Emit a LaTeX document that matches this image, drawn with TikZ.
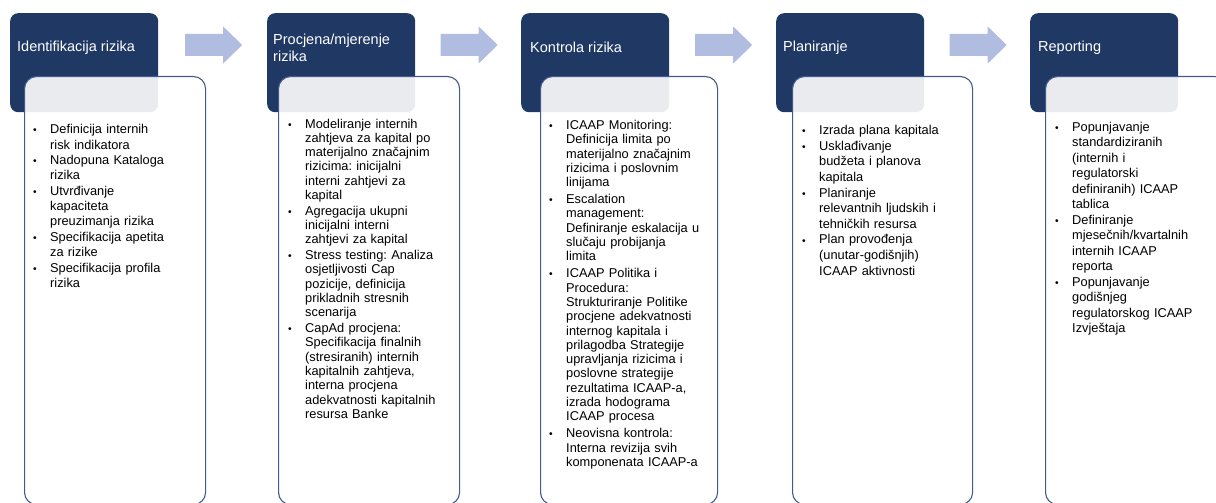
\documentclass[tikz,border=0pt]{standalone}
\usepackage{fontspec}
\setmainfont{Liberation Sans}
\usepackage{tikz}
\usetikzlibrary{calc}
\definecolor{hdrblue}{RGB}{32,56,100}
\definecolor{arrblue}{RGB}{176,189,224}
\definecolor{boxline}{RGB}{68,90,140}
\tikzset{
  hdr/.style={anchor=north west, fill=hdrblue, rounded corners=8pt, minimum width=148pt, minimum height=99pt, inner sep=0pt},
  hdrtxt/.style={anchor=west, text=white, align=left, inner sep=0pt, font=\fontsize{14.5}{17}\selectfont},
  opisbox/.style={anchor=north west, draw=boxline, line width=1.1pt, fill=white, fill opacity=0.9, rounded corners=12pt, minimum height=428pt, inner sep=0pt},
  opistxt/.style={anchor=north west, inner sep=0pt, text width=200pt, font=\fontsize{12.8}{#1}\selectfont\frenchspacing},
  pics/strelica/.style={code={
    \fill[arrblue] (-28.5,-11) -- (9.5,-11) -- (9.5,-18.5) -- (28.5,0) -- (9.5,18.5) -- (9.5,11) -- (-28.5,11) -- cycle;
  }}
}
\newlength{\razmak}
\newcommand{\stavka}[1]{\par\noindent\hangindent=17pt\hangafter=1\makebox[17pt][l]{\scalebox{0.8}{\textbullet}}#1\par\vspace{\razmak}}

\begin{document}
\begin{tikzpicture}[x=1pt,y=-1pt]
\useasboundingbox (0,0) rectangle (1216,503);
\clip (0,0) rectangle (1216,503);
% zaglavlja
\node[hdr] (h1) at (10,13) {};
\node[hdr] (h2) at (267,13) {};
\node[hdr] (h3) at (521,13) {};
\node[hdr] (h4) at (776,13) {};
\node[hdr] (h5) at (1030,13) {};
% okviri s opisom
\node[opisbox, minimum width=181pt] (b1) at ($(h1.north west)+(14,63)$) {};
\node[opisbox, minimum width=181pt] (b2) at ($(h2.north west)+(11,63)$) {};
\node[opisbox, minimum width=177pt] (b3) at ($(h3.north west)+(19,63)$) {};
\node[opisbox, minimum width=180pt] (b4) at ($(h4.north west)+(16,63)$) {};
\node[opisbox, minimum width=181pt] (b5) at ($(h5.north west)+(15,63)$) {};
% naslovi
\node[hdrtxt] (t1) at ($(h1.north west)+(7,34.5)$) {Identifikacija rizika};
\node[hdrtxt] (t2) at ($(h2.north west)+(6,34.5)$) {Procjena/mjerenje\\rizika};
\node[hdrtxt] (t3) at ($(h3.north west)+(9,34.5)$) {Kontrola rizika};
\node[hdrtxt] (t4) at ($(h4.north west)+(7,34.5)$) {Planiranje};
\node[hdrtxt] (t5) at ($(h5.north west)+(8,34.5)$) {Reporting};
% strelice
\pic (s1) at ($(h1.north east)!0.5!(h2.north west)+(1,32)$) {strelica};
\pic (s2) at ($(h2.north east)!0.5!(h3.north west)+(1,32)$) {strelica};
\pic (s3) at ($(h3.north east)!0.5!(h4.north west)+(1,32)$) {strelica};
\pic (s4) at ($(h4.north east)!0.5!(h5.north west)+(1,32)$) {strelica};
% opisi
\node[opistxt=15.4] (l1) at ($(b1.north west)+(9,42)$) {\setlength{\razmak}{0pt}%
  \stavka{Definicija internih\newline risk indikatora}
  \stavka{Nadopuna Kataloga\newline rizika}
  \stavka{Utvrđivanje\newline kapaciteta\newline preuzimanja rizika}
  \stavka{Specifikacija apetita\newline za rizike}
  \stavka{Specifikacija profila\newline rizika}};
\node[opistxt=14.3] (l2) at ($(b2.north west)+(10,37.5)$) {\setlength{\razmak}{1.5pt}%
  \stavka{Modeliranje internih\newline zahtjeva za kapital po\newline materijalno značajnim\newline rizicima: inicijalni\newline interni zahtjevi za\newline kapital}
  \stavka{Agregacija ukupni\newline inicijalni interni\newline zahtjevi za kapital}
  \stavka{Stress testing: Analiza\newline osjetljivosti Cap\newline pozicije, definicija\newline prikladnih stresnih\newline scenarija}
  \stavka{CapAd procjena:\newline Specifikacija finalnih\newline (stresiranih) internih\newline kapitalnih zahtjeva,\newline interna procjena\newline adekvatnosti kapitalnih\newline resursa Banke}};
\node[opistxt=14.3] (l3) at ($(b3.north west)+(9,39)$) {\setlength{\razmak}{2.7pt}%
  \stavka{ICAAP Monitoring:\newline Definicija limita po\newline materijalno značajnim\newline rizicima i poslovnim\newline linijama}
  \stavka{Escalation\newline management:\newline Definiranje eskalacija u\newline slučaju probijanja\newline limita}
  \stavka{ICAAP Politika i\newline Procedura:\newline Strukturiranje Politike\newline procjene adekvatnosti\newline internog kapitala i\newline prilagodba Strategije\newline upravljanja rizicima i\newline poslovne strategije\newline rezultatima ICAAP-a,\newline izrada hodograma\newline ICAAP procesa}
  \stavka{Neovisna kontrola:\newline Interna revizija svih\newline komponenata ICAAP-a}};
\node[opistxt=15.6] (l4) at ($(b4.north west)+(10,43)$) {\setlength{\razmak}{0pt}%
  \stavka{Izrada plana kapitala}
  \stavka{Usklađivanje\newline budžeta i planova\newline kapitala}
  \stavka{Planiranje\newline relevantnih ljudskih i\newline tehničkih resursa}
  \stavka{Plan provođenja\newline (unutar-godišnjih)\newline ICAAP aktivnosti}};
\node[opistxt=15.5] (l5) at ($(b5.north west)+(10,39.5)$) {\setlength{\razmak}{0pt}%
  \stavka{Popunjavanje\newline standardiziranih\newline (internih i\newline regulatorski\newline definiranih) ICAAP\newline tablica}
  \stavka{Definiranje\newline mjesečnih/kvartalnih\newline internih ICAAP\newline reporta}
  \stavka{Popunjavanje\newline godišnjeg\newline regulatorskog ICAAP\newline Izvještaja}};
\end{tikzpicture}
\end{document}
